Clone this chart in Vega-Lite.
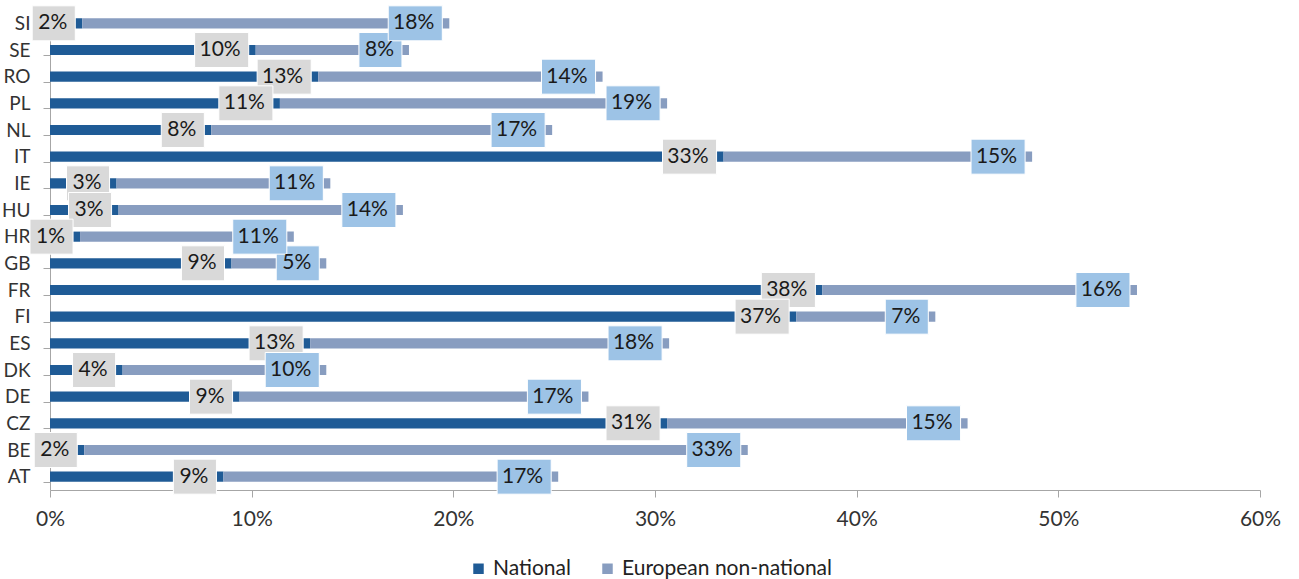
{
  "$schema": "https://vega.github.io/schema/vega-lite/v6.json",
  "width": 1210,
  "height": 480,
  "autosize": {"type": "none"},
  "padding": {"left": 50, "top": 10, "right": 39, "bottom": 89},
  "background": "white",
  "config": {
    "view": {"stroke": null},
    "font": "Lato",
    "axis": {"labelFont": "Lato", "labelColor": "#333333", "domainColor": "#a6a6a6", "tickColor": "#a6a6a6", "grid": false, "title": null}
  },
  "data": {
    "values": [
      {"country": "SI", "type": "National", "value": 0.016},
      {"country": "SI", "type": "European non-national", "value": 0.182},
      {"country": "SE", "type": "National", "value": 0.102},
      {"country": "SE", "type": "European non-national", "value": 0.076},
      {"country": "RO", "type": "National", "value": 0.133},
      {"country": "RO", "type": "European non-national", "value": 0.141},
      {"country": "PL", "type": "National", "value": 0.114},
      {"country": "PL", "type": "European non-national", "value": 0.192},
      {"country": "NL", "type": "National", "value": 0.080},
      {"country": "NL", "type": "European non-national", "value": 0.169},
      {"country": "IT", "type": "National", "value": 0.334},
      {"country": "IT", "type": "European non-national", "value": 0.153},
      {"country": "IE", "type": "National", "value": 0.033},
      {"country": "IE", "type": "European non-national", "value": 0.106},
      {"country": "HU", "type": "National", "value": 0.034},
      {"country": "HU", "type": "European non-national", "value": 0.141},
      {"country": "HR", "type": "National", "value": 0.0149},
      {"country": "HR", "type": "European non-national", "value": 0.106},
      {"country": "GB", "type": "National", "value": 0.090},
      {"country": "GB", "type": "European non-national", "value": 0.047},
      {"country": "FR", "type": "National", "value": 0.383},
      {"country": "FR", "type": "European non-national", "value": 0.156},
      {"country": "FI", "type": "National", "value": 0.370},
      {"country": "FI", "type": "European non-national", "value": 0.069},
      {"country": "ES", "type": "National", "value": 0.129},
      {"country": "ES", "type": "European non-national", "value": 0.178},
      {"country": "DK", "type": "National", "value": 0.036},
      {"country": "DK", "type": "European non-national", "value": 0.101},
      {"country": "DE", "type": "National", "value": 0.094},
      {"country": "DE", "type": "European non-national", "value": 0.173},
      {"country": "CZ", "type": "National", "value": 0.306},
      {"country": "CZ", "type": "European non-national", "value": 0.149},
      {"country": "BE", "type": "National", "value": 0.017},
      {"country": "BE", "type": "European non-national", "value": 0.329},
      {"country": "AT", "type": "National", "value": 0.086},
      {"country": "AT", "type": "European non-national", "value": 0.166}
    ]
  },
  "transform": [
    {"stack": "value", "groupby": ["country"], "sort": [{"field": "type", "order": "descending"}], "as": ["v0", "v1"]}
  ],
  "encoding": {
    "y": {
      "field": "country", "type": "nominal", "sort": "descending",
      "scale": {"paddingInner": 0.62, "paddingOuter": 0.31},
      "axis": {"tickBand": "extent", "tickSize": 7, "labelFontSize": 19, "labelPadding": 13, "domainColor": "#a6a6a6"}
    }
  },
  "layer": [
    {
      "mark": {"type": "bar"},
      "encoding": {
        "x": {
          "field": "v0", "type": "quantitative",
          "scale": {"domain": [0, 0.6], "nice": false},
          "axis": {"format": ".0%", "values": [0, 0.1, 0.2, 0.3, 0.4, 0.5, 0.6], "tickSize": 7, "labelFontSize": 21, "labelPadding": 11, "labelFlush": false, "labelOverlap": false}
        },
        "x2": {"field": "v1"},
        "color": {
          "field": "type", "type": "nominal",
          "scale": {"domain": ["National", "European non-national"], "range": ["#1f5b96", "#889dc0"]},
          "legend": {"title": null, "orient": "none", "legendX": 418, "legendY": 548, "direction": "horizontal", "symbolType": "square", "symbolSize": 110, "labelFontSize": 21, "labelFont": "Lato", "labelColor": "#222222", "labelLimit": 400, "columnPadding": 26, "symbolStrokeWidth": 0}
        }
      }
    },
    {
      "transform": [{"filter": "datum.value < 0.095"}],
      "mark": {"type": "point", "shape": "M-2.46,-1H0V1H-2.46Z", "size": 1225, "filled": true, "opacity": 1, "stroke": "white", "strokeWidth": 1, "xOffset": -7},
      "encoding": {
        "x": {"field": "v1", "type": "quantitative"},
        "fill": {"condition": {"test": "datum.type == 'National'", "value": "#d9d9d9"}, "value": "#9dc3e6"}
      }
    },
    {
      "transform": [{"filter": "datum.value >= 0.095"}],
      "mark": {"type": "point", "shape": "M-3.09,-1H0V1H-3.09Z", "size": 1225, "filled": true, "opacity": 1, "stroke": "white", "strokeWidth": 1, "xOffset": -7},
      "encoding": {
        "x": {"field": "v1", "type": "quantitative"},
        "fill": {"condition": {"test": "datum.type == 'National'", "value": "#d9d9d9"}, "value": "#9dc3e6"}
      }
    },
    {
      "mark": {"type": "text", "align": "right", "baseline": "middle", "fontSize": 21, "font": "Lato", "color": "#1a1a1a", "xOffset": -15},
      "encoding": {
        "x": {"field": "v1", "type": "quantitative"},
        "text": {"field": "value", "type": "quantitative", "format": ".0%"}
      }
    }
  ]
}
